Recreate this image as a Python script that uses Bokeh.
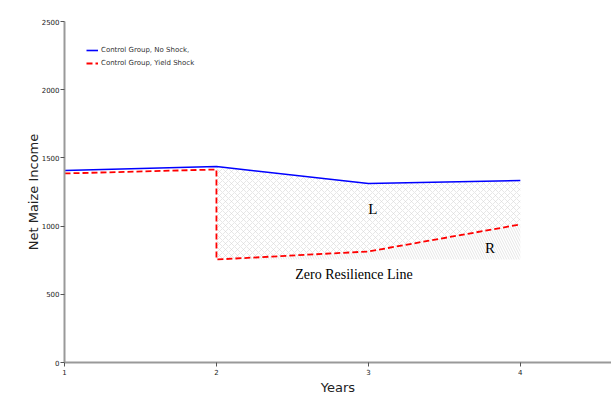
from bokeh.plotting import figure
from bokeh.models import FixedTicker, Legend, LegendItem, Label, Range1d
from bokeh.embed import file_html
from bokeh.resources import INLINE

years = [1, 2, 3, 4]
no_shock = [1408, 1437, 1312, 1334]
shock_x = [1, 2, 2, 3, 4]
shock_y = [1386, 1415, 755, 814, 1012]
y_ticks = [0, 500, 1000, 1500, 2000, 2500]
x_ticks = [1, 2, 3, 4]

# post-shock part (years 2..4)
post_x = years[1:]
post_blue = no_shock[1:]
post_red = shock_y[2:]
floor = [shock_y[2]] * len(post_x)

p = figure(width=611, height=400, output_backend="svg", toolbar_location=None,
           x_range=Range1d(1, 4.6), y_range=Range1d(0, 2500),
           min_border_left=64, min_border_right=0, min_border_top=21, min_border_bottom=38)
p.background_fill_color = "white"
p.border_fill_color = "white"
p.outline_line_color = None
p.grid.visible = False

# hatched areas
p.varea(x=post_x, y1=post_red, y2=post_blue, fill_color=None, fill_alpha=0,
        hatch_pattern="diagonal_cross", hatch_color="#d6d6d6", hatch_scale=6,
        hatch_weight=0.6)
p.varea(x=post_x, y1=floor, y2=post_red, fill_color=None, fill_alpha=0,
        hatch_pattern="left_diagonal_line", hatch_color="#e0e0e0", hatch_scale=5,
        hatch_weight=0.8)

r1 = p.line(years, no_shock, line_color="#0000ff", line_width=1.6)
r2 = p.line(shock_x, shock_y, line_color="#ff0000", line_width=1.8, line_dash="6 3")

legend = Legend(items=[LegendItem(label="Control Group, No Shock,", renderers=[r1]),
                       LegendItem(label="Control Group, Yield Shock", renderers=[r2])],
                location=(22, 293))
legend.border_line_color = None
legend.background_fill_alpha = 0
legend.label_text_font = "DejaVu Sans"
legend.label_text_font_size = "7px"
legend.label_text_color = "#333333"
legend.glyph_width = 12
legend.glyph_height = 12
legend.label_height = 12
legend.spacing = 1
legend.label_standoff = 3
legend.padding = 10
legend.margin = 0
p.add_layout(legend)

for txt, x, y, size in [("L", 3.03, 1129, "15px"), ("R", 3.80, 836, "15px"),
                        ("Zero Resilience Line", 2.905, 645, "14px")]:
    p.add_layout(Label(x=x, y=y, text=txt, text_font="Liberation Serif",
                       text_font_size=size, text_align="center", text_baseline="middle",
                       text_color="black"))

for ax in (p.xaxis[0], p.yaxis[0]):
    ax.axis_line_color = "#999999"
    ax.axis_line_width = 2
    ax.major_tick_line_color = "#555555"
    ax.major_tick_out = 4
    ax.major_tick_in = 0
    ax.minor_tick_line_color = None
    ax.major_label_text_font = "DejaVu Sans"
    ax.major_label_text_font_size = "7px"
    ax.major_label_text_color = "#222222"
    ax.axis_label_text_font = "DejaVu Sans"
    ax.axis_label_text_font_size = "13px"
    ax.axis_label_text_font_style = "normal"
    ax.axis_label_text_color = "#222222"

p.xaxis.ticker = FixedTicker(ticks=x_ticks)
p.yaxis.ticker = FixedTicker(ticks=y_ticks)
p.xaxis.axis_label = "Years"
p.yaxis.axis_label = "Net Maize Income"
p.xaxis.major_label_standoff = 2
p.yaxis.major_label_standoff = 1
p.xaxis.axis_label_standoff = 2
p.yaxis.axis_label_standoff = -2

open("out.html", "w").write(file_html(p, INLINE))
